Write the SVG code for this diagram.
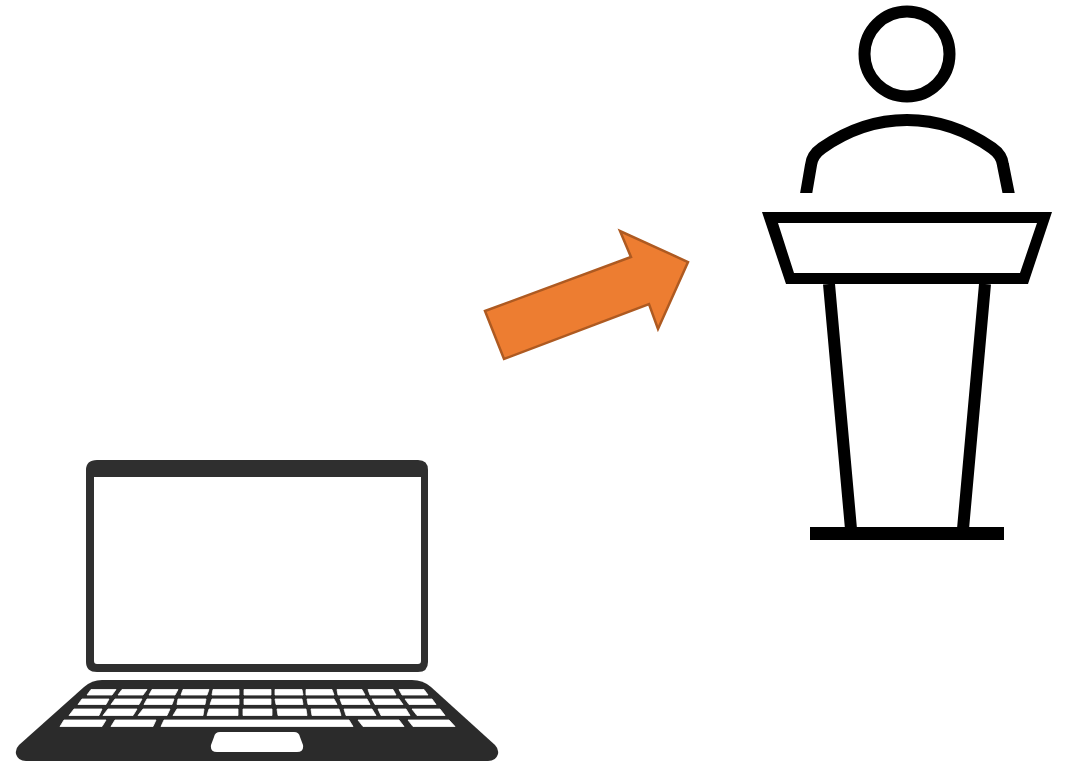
<svg xmlns="http://www.w3.org/2000/svg" width="1066" height="762" viewBox="0 0 1066 762">
<defs><clipPath id="c"><rect x="780" y="100" width="260" height="93"/></clipPath></defs>
<style>
.k{fill:#fff;stroke:#fff;stroke-width:.8;stroke-linejoin:round}
.p{fill:none;stroke:#000;stroke-width:12}
</style>
<rect width="1066" height="762" fill="#fff"/>
<g id="laptop">
<path d="M97 460H418Q428 460 428 470V662Q428 672 418 672H97Q86 672 86 662V470Q86 460 97 460Z M94 477V661Q94 664 97 664H418Q421 664 421 661V477Z" fill="#2f2f2f" fill-rule="evenodd"/>
<path d="M102 680H412Q423 680 431 687L495 745Q499 749 498 754Q496 761 488 761H26Q18 761 16 754Q15 749 19 745L84 687Q92 680 102 680Z" fill="#2b2b2b"/>
<g id="keys">
<path class="k" d="M91 689.500H116L112 695H87Z"/><path class="k" d="M122 689.500H147L143 695H118Z"/><path class="k" d="M152 689.500H178L175 695H149Z"/><path class="k" d="M183 689.500H209L207 695H181Z"/><path class="k" d="M213 689.500H239V695H212Z"/><path class="k" d="M244 689.500H271V695H244Z"/><path class="k" d="M275 689.500H302L303 695H275Z"/><path class="k" d="M306 689.500H332L334 695H306Z"/><path class="k" d="M337 689.500H362L365 695H338Z"/><path class="k" d="M368 689.500H393L396 695H370Z"/><path class="k" d="M399 689.500H424L428 695H402Z"/>
<path class="k" d="M82 699H109L106 704.500H78Z"/><path class="k" d="M115 699H142L139 704.500H111Z"/><path class="k" d="M147 699H174L172 704.500H144Z"/><path class="k" d="M178 699H206L205 704.500H177Z"/><path class="k" d="M212 699H239V704.500H210Z"/><path class="k" d="M244 699H271V704.500H244Z"/><path class="k" d="M275 699H302L303 704.500H276Z"/><path class="k" d="M307 699H334L337 704.500H308Z"/><path class="k" d="M340 699H367L370 704.500H342Z"/><path class="k" d="M372 699H399L403 704.500H375Z"/><path class="k" d="M405 699H432L436 704.500H409Z"/>
<path class="k" d="M74 709H102L99 715.500H69Z"/><path class="k" d="M108 709H137L133 715.500H103Z"/><path class="k" d="M143 709H170L167 715.500H138Z"/><path class="k" d="M177 709H204L203 715.500H173Z"/><path class="k" d="M209 709H238V715.500H207Z"/><path class="k" d="M243 709H272V715.500H243Z"/><path class="k" d="M277 709H306L307 715.500H278Z"/><path class="k" d="M311 709H339L341 715.500H312Z"/><path class="k" d="M344 709H372L376 715.500H346Z"/><path class="k" d="M378 709H406L410 715.500H381Z"/><path class="k" d="M412 709H440L445 715.500H417Z"/>
<path class="k" d="M64 720H106L102 726.500H60Z"/><path class="k" d="M115 720H156L153 726.500H111Z"/><path class="k" d="M164 720H349L353 726.500H161Z"/><path class="k" d="M358 720H399L404 726.500H363Z"/><path class="k" d="M408 720H449L455 726.500H413Z"/>
</g>
<path d="M220 732H294Q299 732 300 737L303 745Q304 752 297 752H217Q210 752 211 745L214 737Q215 732 220 732Z" fill="#fff"/>
</g>
<g id="connectors">
<path d="M485 311L631 257L620 231L688 262L658 329L649 304L504 359Z" fill="#ed7d31" stroke="#ae5a21" stroke-width="2.500" stroke-linejoin="miter"/>
</g>
<g id="speaker">
<circle cx="907" cy="54" r="42.500" fill="none" stroke="#000" stroke-width="12"/>
<path class="p" clip-path="url(#c)" d="M805 200L811 165Q812 155 822 148Q862 120 907 120Q952 120 992 148Q1002 155 1003 165L1010 200"/>
<path d="M762 212H1052L1028 284H786Z M778 223L794 273H1020L1037 223Z" fill="#000" fill-rule="evenodd"/>
<path class="p" d="M829 284L851 529M985 284L963 529"/>
<path d="M810 527H1004V540H810Z" fill="#000"/>
</g>
</svg>
